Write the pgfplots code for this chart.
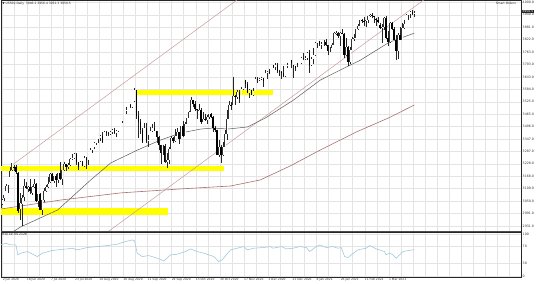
\documentclass[border=0pt]{standalone}
\usepackage{fontspec}
\setmainfont{DejaVu Sans}
\usepackage{pgfplots}
\usepackage{pgfplotstable}
\pgfplotsset{compat=1.18}

\pgfplotstableread{
i o h l c
-1 3038 3062 3031 3055
0 3064 3081 3052 3080
1 3098 3130 3098 3122
2 3112 3128 3090 3112
3 3163 3211 3163 3193
4 3199 3233 3193 3232
5 3213 3222 3193 3207
6 3213 3224 3181 3190
7 3185 3188 2995 3002
8 3010 3088 2960 3041
9 3035 3079 2930 3066
10 3070 3155 3050 3124
11 3124 3141 3108 3113
12 3110 3120 3093 3115
13 3115 3155 3084 3097
14 3090 3120 3080 3117
15 3117 3154 3114 3131
16 3131 3134 3044 3050
17 3050 3086 3024 3083
18 3083 3088 3005 3009
19 3005 3054 2985 3053
20 3053 3111 3047 3100
21 3100 3128 3095 3115
22 3115 3165 3112 3130
23 3140 3183 3137 3179
24 3179 3185 3144 3145
25 3145 3171 3136 3169
26 3169 3180 3116 3152
27 3152 3186 3135 3185
28 3185 3235 3153 3155
29 3155 3200 3127 3197
30 3197 3238 3195 3226
31 3226 3227 3194 3215
32 3215 3233 3205 3224
33 3224 3258 3216 3251
34 3251 3277 3247 3257
35 3257 3279 3251 3276
36 3276 3280 3222 3236
37 3236 3237 3200 3215
38 3215 3241 3213 3239
39 3239 3243 3216 3218
40 3218 3264 3215 3258
41 3258 3260 3201 3246
42 3246 3272 3220 3271
43 3271 3302 3270 3295
44 3295 3307 3281 3306
45 3306 3330 3300 3327
46 3327 3351 3318 3349
47 3349 3352 3328 3351
48 3351 3364 3335 3360
49 3360 3381 3326 3333
50 3333 3387 3333 3380
51 3380 3387 3363 3373
52 3373 3378 3361 3372
53 3372 3387 3368 3381
54 3381 3395 3370 3389
55 3389 3399 3369 3374
56 3374 3390 3354 3385
57 3385 3399 3379 3397
58 3397 3432 3397 3431
59 3431 3444 3421 3443
60 3443 3481 3440 3478
61 3478 3501 3468 3484
62 3484 3509 3484 3508
63 3508 3514 3493 3500
64 3500 3529 3494 3527
65 3527 3588 3525 3580
66 3580 3580 3443 3455
67 3455 3479 3349 3427
68 3427 3440 3370 3390
69 3390 3400 3329 3331
70 3331 3424 3330 3398
71 3398 3425 3329 3339
72 3339 3368 3310 3341
73 3341 3402 3340 3383
74 3383 3419 3380 3401
75 3401 3428 3383 3385
76 3385 3386 3328 3357
77 3357 3363 3292 3319
78 3319 3320 3229 3281
79 3281 3320 3270 3315
80 3315 3323 3232 3237
81 3237 3279 3209 3246
82 3246 3306 3228 3298
83 3298 3361 3298 3351
84 3351 3357 3327 3335
85 3335 3393 3331 3363
86 3363 3397 3361 3380
87 3380 3381 3324 3348
88 3348 3409 3348 3408
89 3408 3432 3354 3361
90 3361 3426 3361 3419
91 3419 3447 3419 3446
92 3446 3482 3446 3477
93 3477 3549 3477 3534
94 3534 3534 3500 3512
95 3512 3527 3480 3488
96 3488 3489 3441 3483
97 3483 3515 3480 3484
98 3484 3497 3420 3427
99 3427 3476 3427 3443
100 3443 3465 3431 3435
101 3435 3460 3416 3453
102 3453 3466 3440 3465
103 3465 3470 3445 3452
104 3452 3455 3380 3400
105 3400 3410 3380 3391
106 3391 3391 3270 3271
107 3271 3341 3259 3310
108 3310 3320 3233 3270
109 3270 3330 3265 3310
110 3310 3389 3310 3370
111 3370 3486 3340 3443
112 3443 3529 3443 3510
113 3510 3521 3485 3509
114 3509 3645 3509 3550
115 3550 3557 3511 3545
116 3545 3581 3540 3572
117 3572 3581 3520 3537
118 3537 3593 3537 3585
119 3585 3628 3580 3627
120 3627 3630 3588 3610
121 3610 3619 3567 3568
122 3568 3585 3543 3582
123 3582 3582 3556 3558
124 3558 3589 3552 3578
125 3578 3642 3575 3635
126 3635 3643 3616 3629
127 3629 3640 3625 3635
128 3635 3644 3629 3638
129 3638 3640 3594 3622
130 3622 3678 3622 3662
131 3662 3670 3635 3669
132 3669 3682 3658 3667
133 3667 3699 3666 3699
134 3699 3700 3684 3692
135 3692 3708 3678 3702
136 3702 3712 3660 3672
137 3672 3678 3647 3668
138 3668 3670 3633 3663
139 3663 3697 3645 3647
140 3647 3695 3645 3695
141 3695 3711 3686 3702
142 3702 3725 3700 3722
143 3722 3726 3685 3709
144 3700 3702 3636 3695
145 3695 3697 3670 3687
146 3687 3711 3687 3690
147 3690 3703 3689 3703
148 3710 3740 3705 3735
149 3735 3756 3723 3727
150 3727 3744 3725 3732
151 3732 3760 3726 3756
152 3756 3770 3662 3701
153 3701 3737 3695 3727
154 3727 3783 3705 3748
155 3748 3811 3745 3803
156 3803 3826 3783 3825
157 3815 3817 3789 3799
158 3799 3811 3777 3801
159 3801 3820 3791 3810
160 3810 3823 3792 3795
161 3795 3797 3750 3768
162 3768 3785 3760 3780
163 3780 3804 3780 3798
164 3798 3859 3795 3851
165 3851 3861 3845 3853
166 3853 3856 3830 3841
167 3841 3859 3791 3855
168 3855 3870 3847 3849
169 3849 3852 3732 3750
170 3750 3830 3745 3787
171 3787 3790 3694 3714
172 3714 3784 3705 3774
173 3774 3836 3770 3826
174 3826 3847 3816 3830
175 3830 3872 3828 3872
176 3872 3894 3866 3887
177 3887 3916 3886 3915
178 3915 3918 3902 3911
179 3911 3931 3885 3910
180 3910 3917 3884 3916
181 3916 3935 3900 3934
182 3934 3945 3930 3940
183 3940 3950 3923 3932
184 3932 3933 3900 3931
185 3920 3925 3885 3913
186 3913 3930 3901 3907
187 3890 3902 3870 3876
188 3876 3895 3805 3881
189 3881 3928 3868 3925
190 3925 3933 3826 3829
191 3829 3861 3789 3811
192 3811 3904 3805 3901
193 3901 3906 3868 3870
194 3870 3882 3818 3820
195 3820 3843 3723 3768
196 3768 3851 3730 3842
197 3842 3881 3819 3821
198 3821 3903 3818 3875
199 3875 3917 3870 3898
200 3898 3942 3895 3939
201 3939 3944 3915 3943
202 3943 3958 3925 3952
203 3952 3962 3938 3946
204 3946.2 3956.4 3931.3 3950.5
}\candles

\pgfplotstableread{
i r
-1.5 73.8
1 77.8
3.5 73.8
6 74
7 50
8.4 54
11.8 57.9
15 50
16.7 46
19.2 54
23.3 59.5
26.6 61.9
31.6 64.3
34.1 65.9
36.6 61.9
41.5 67.5
46.5 69.8
51.5 72.2
56.4 75.4
60.5 81.7
63.9 85.7
65 83.3
66.3 54
68.8 46
72.1 48.4
76.3 42
79.6 35.7
82.9 50
86.2 51.6
90.3 57.9
92.8 64.3
96.1 57.9
99.4 54
104.4 46
106.8 34
108.5 38
112.7 61.9
116 65.9
119.3 69.8
121 61.9
124.2 65.9
129.2 67.5
132.5 69.8
133.8 65.9
138 69.8
140.4 64.3
143.8 65.9
147 69.8
150.4 67.5
152 57.9
155.3 69.8
157 73.8
160.3 67.5
163.6 69.8
166.1 65.9
167.7 67.5
169.4 46
171.1 43.7
172.7 50
176 61.9
180.1 65.9
181.8 72.2
185.1 64.3
189.2 57.9
190 50
191.7 54
193.4 50
195 42
196.7 50
198.4 57.9
200 59.5
203.4 61.9
204 61.9
}\rsi

\pgfplotstableread{
i p
4.5 2902.7
8.4 2926.5
26.8 3007.6
43.2 3150.8
53.1 3231.9
66.5 3294
77.9 3341.6
87.8 3375
97.8 3394
104.2 3399
111.2 3394
121.1 3404
130 3447
143.9 3532
157.3 3628
167.2 3676
177.2 3723
191.6 3809
204 3852
}\mafifty

\pgfplotstableread{
i p
-1.5 3012
28.3 3055
58.1 3089
87.8 3108
112.7 3122
127.5 3151
142.4 3218
157.3 3294
175.2 3380
192.1 3451
204 3509
}\matwohundred

\definecolor{bandyellow}{RGB}{255,255,0}
\definecolor{chan}{RGB}{200,155,155}
\definecolor{maslow}{RGB}{170,110,110}
\definecolor{mafast}{RGB}{90,90,90}
\definecolor{rsiblue}{RGB}{155,198,218}
\definecolor{gridc}{RGB}{228,228,228}

\pgfplotsset{
  chartaxis/.style={
    scale only axis, anchor=south west,
    xmin=-1.489, xmax=257.07,
    xtick={-0.6,5.4,...,257},
    xmajorgrids, ymajorgrids,
    grid style={gridc, line width=0.4pt},
    major tick length=0pt,
    axis line style={black!85, line width=0.5pt},
    yticklabel pos=right,
    yticklabel style={font=\fontsize{3.2}{3.6}\selectfont, anchor=west, inner sep=0pt, xshift=1.5pt, text=black!80},
    xticklabel style={font=\fontsize{3.0}{3.4}\selectfont, anchor=north west, inner sep=0pt, yshift=-1.6pt, text=black!80},
  },
  bodies/.style={draw=none, mark=none, forget plot},
}

\begin{document}
\begin{tikzpicture}
\path[draw=none] (0pt,0pt) rectangle (536pt,284pt);
\begin{axis}[chartaxis,
  at={(0pt,53pt)}, width=521pt, height=231pt,
  ymin=2907.4, ymax=4009.5,
  xticklabels={},
  ytick={2931,2990.375,...,4000.1},
  yticklabels={2931.0,2991.0,3050.0,3109.0,3168.0,3228.0,3287.0,3347.0,3406.0,3465.0,3525.0,3584.0,3643.0,3703.0,3763.0,3822.0,3881.0,3940.0,4000.0},
]
\addplot[bandyellow, line width=6.5pt, forget plot] coordinates {(-1.6,2999.5) (81.4,2999.5)};
\addplot[bandyellow, line width=4.5pt, forget plot] coordinates {(-1.6,3205) (109.2,3205)};
\addplot[bandyellow, line width=5pt, forget plot] coordinates {(65.5,3567) (134,3567)};
\addplot[chan, line width=0.5pt, forget plot] coordinates {(4,3221) (120,4040)};
\addplot[chan, line width=0.5pt, forget plot] coordinates {(40,2820) (210,4020)};
\addplot[maslow, line width=0.6pt, forget plot] table[x=i,y=p] {\matwohundred};
\addplot[mafast, line width=0.5pt, forget plot] table[x=i,y=p] {\mafifty};
% wicks
\addplot[bodies,
  error bars/.cd, y dir=minus, y explicit, error mark=none,
  error bar style={draw=black!85, line width=0.4pt}]
  table[x=i, y=h, y error expr=\thisrow{h}-\thisrow{l}] {\candles};
% up bodies: dark outline, light inside
\addplot[bodies,
  restrict expr to domain={\thisrow{c}-\thisrow{o}}{0:100000},
  error bars/.cd, y dir=minus, y explicit, error mark=none,
  error bar style={draw=black!80, line width=1.4pt}]
  table[x=i, y=c, y error expr=\thisrow{c}-\thisrow{o}] {\candles};
\addplot[bodies,
  restrict expr to domain={\thisrow{c}-\thisrow{o}}{0:100000},
  error bars/.cd, y dir=minus, y explicit, error mark=none,
  error bar style={draw=white, line width=0.5pt}]
  table[x=i, y=c, y error expr=\thisrow{c}-\thisrow{o}] {\candles};
% down bodies
\addplot[bodies,
  restrict expr to domain={\thisrow{o}-\thisrow{c}}{0.001:100000},
  error bars/.cd, y dir=minus, y explicit, error mark=none,
  error bar style={draw=black, line width=1.4pt}]
  table[x=i, y=o, y error expr=\thisrow{o}-\thisrow{c}] {\candles};
\end{axis}
\node[anchor=west, font=\fontsize{3.0}{3.4}\selectfont, inner sep=0pt, text=black!85] at (1.5pt,280.5pt) {▼ US500,Daily\ \ 3946.2 3956.4 3931.3 3950.5};
\node[anchor=east, font=\fontsize{3.0}{3.4}\selectfont, inner sep=0pt, text=black!85] at (516pt,281pt) {Smart Orders};
\node[anchor=west, font=\fontsize{3.2}{3.6}\selectfont, inner sep=0.5pt, fill=black!85, text=white] at (521.5pt,272.5pt) {3950.5};

\begin{axis}[chartaxis,
  at={(0pt,7pt)}, width=521pt, height=45pt,
  ymin=-2.38, ymax=104.76,
  ytick={0,30,70,100},
  yticklabels={0,30,70,100},
  xticklabels={2 Jun 2020,,18 Jun 2020,,7 Jul 2020,,23 Jul 2020,,10 Aug 2020,,26 Aug 2020,,11 Sep 2020,,29 Sep 2020,,15 Oct 2020,,30 Oct 2020,,17 Nov 2020,,3 Dec 2020,,21 Dec 2020,,8 Jan 2021,,26 Jan 2021,,11 Feb 2021,,1 Mar 2021},
]
\addplot[rsiblue, line width=0.55pt] table[x=i,y=r] {\rsi};
\end{axis}
\node[anchor=west, font=\fontsize{3.0}{3.4}\selectfont, inner sep=0pt, text=black!85] at (1.5pt,49.5pt) {RSI(14) 60.2128};
\draw[black!70, line width=1.6pt] (0pt,52.5pt) -- (521pt,52.5pt);
\end{tikzpicture}
\end{document}
